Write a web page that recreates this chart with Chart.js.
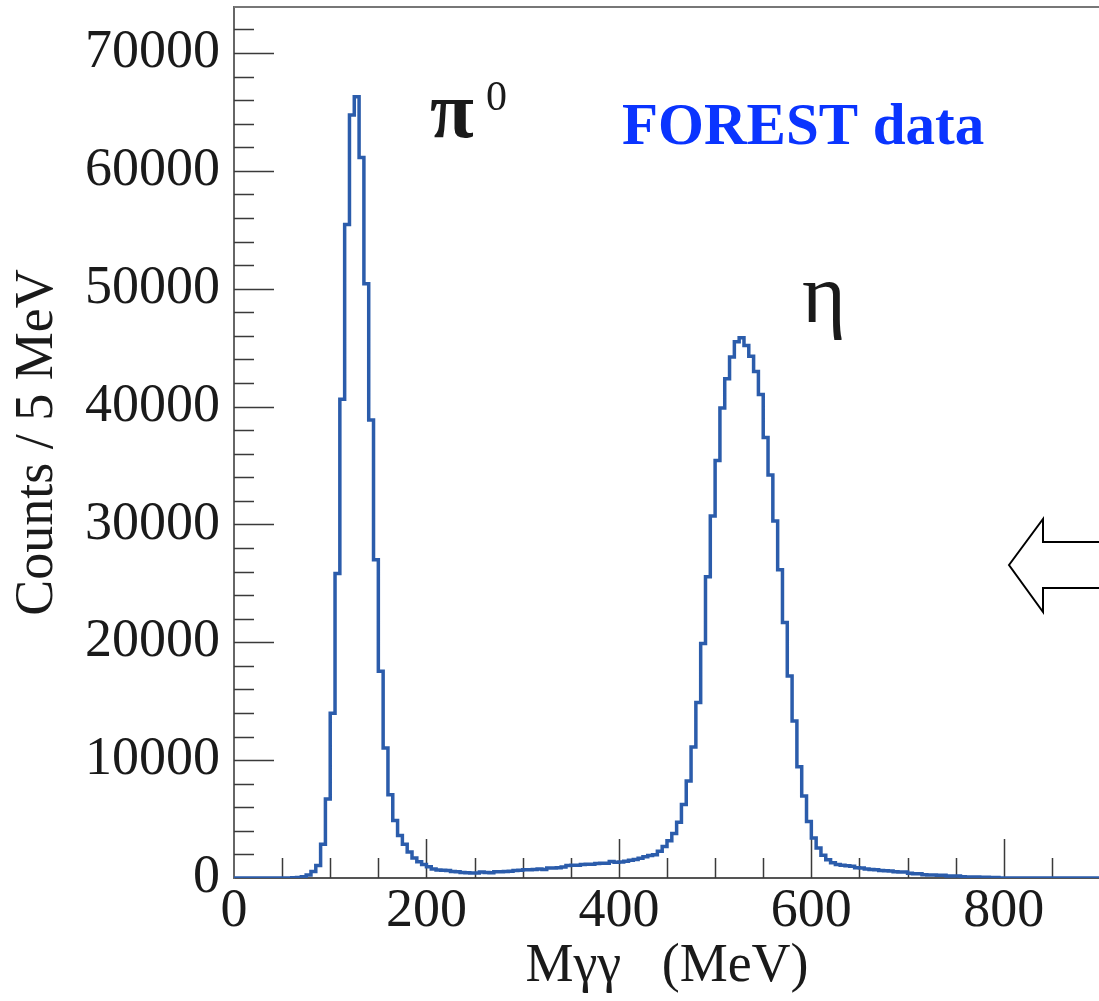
<!DOCTYPE html>
<html>
<head>
<meta charset="utf-8">
<title>M_gg spectrum - FOREST data</title>
<script src="https://cdn.jsdelivr.net/npm/chart.js@4.4.1/dist/chart.umd.min.js"></script>
<style>
    html, body { margin: 0; padding: 0; background: #fff; overflow: hidden; }
    #wrap { position: relative; width: 1110px; height: 1001px; }
</style>
</head>
<body>
<div id="wrap"><canvas id="mggChart" width="1110" height="1001"></canvas></div>
<script>
/**
 * Two-photon invariant mass histogram (5 MeV bins, 0 - 900 MeV)
 */

const BIN_WIDTH = 5;      // MeV per bin
const X_MIN = 0;
const X_MAX = 900;
const Y_MAX = 73900;

// --- bin contents, grouped by region ---
// 0 .. 90 MeV
const countsLow = [0, 0, 0, 0, 0, 0, 0, 0, 0, 0, 0, 0, 0, 20, 50, 100, 250, 550, 1050];
// 95 .. 200 MeV (pi0 peak)
const countsPi0 = [2870, 6700, 13980, 25830, 40630, 55440, 64730, 66280, 61130, 50420, 38860,
                   27010, 17540, 11030, 7060, 4880, 3600, 2870, 2200, 1700, 1380, 1140];
// 205 .. 465 MeV (between the peaks)
const countsMid = [950, 770, 680, 650, 630, 560, 540, 470, 450, 430,
                   425, 500, 460, 450, 530, 540, 560, 570, 640, 660,
                   700, 710, 720, 770, 720, 840, 850, 860, 930, 1060,
                   1075, 1080, 1150, 1160, 1170, 1230, 1245, 1260, 1390, 1330,
                   1350, 1420, 1500, 1560, 1670, 1800, 1900, 1980, 2270, 2670,
                   3150, 3780, 4720];
// 470 .. 630 MeV (eta peak)
const countsEta = [6240, 8220, 11120, 14890, 19890, 25550, 30710, 35430, 39880, 42350,
                   44200, 45500, 45830, 45180, 44270, 42970, 41020, 37380, 34190, 30290,
                   26160, 21680, 17130, 13330, 9430, 6950, 4800, 3400, 2550, 1920,
                   1540, 1300, 1140];
// 635 .. 895 MeV (tail)
const countsTail = [1080, 1040, 1000, 880, 850, 760, 720, 700, 640, 620,
                    600, 530, 510, 500, 400, 370, 350, 280, 260, 250,
                    240, 230, 180, 170, 160, 100, 90, 80, 80, 70,
                    60, 50, 40,
                    0, 0, 0, 0, 0, 0, 0, 0, 0, 0, 0, 0, 0, 0, 0, 0, 0, 0, 0, 0];

// axis tick values
const xTickLabels = [0, 200, 400, 600, 800];
const yTickLabels = [0, 10000, 20000, 30000, 40000, 50000, 60000, 70000];
const X_MINOR_STEP = 50;
const Y_MINOR_STEP = 2000;

const binCounts = [].concat(countsLow, countsPi0, countsMid, countsEta, countsTail);

// step line: one point per low bin edge, plus the closing edge
const histPoints = binCounts.map((c, i) => ({ x: X_MIN + i * BIN_WIDTH, y: c }));
histPoints.push({ x: X_MAX, y: binCounts[binCounts.length - 1] });

const TEXT_COLOR = '#1a1a1a';
const SERIF = '"Liberation Serif", "Times New Roman", serif';

/**
 * ROOT-like frame: inward ticks, top border, labels and the arrow
 */
const frameDecor = {
    id: 'frameDecor',
    beforeDatasetsDraw(chart) {
        const { ctx, chartArea: a, scales: { x, y } } = chart;
        ctx.save();
        ctx.strokeStyle = '#3a3a3a';
        ctx.lineWidth = 1.5;
        ctx.beginPath();
        for (let v = Y_MINOR_STEP; v < Y_MAX; v += Y_MINOR_STEP) {
            const py = Math.round(y.getPixelForValue(v)) + 0.5;
            const len = yTickLabels.includes(v) ? 40 : 20;
            ctx.moveTo(a.left, py);
            ctx.lineTo(a.left + len, py);
        }
        for (let v = X_MINOR_STEP; v < X_MAX; v += X_MINOR_STEP) {
            const px = Math.round(x.getPixelForValue(v)) + 0.5;
            const len = xTickLabels.includes(v) ? 39 : 20;
            ctx.moveTo(px, a.bottom);
            ctx.lineTo(px, a.bottom - len);
        }
        ctx.stroke();

        // top border of the frame
        ctx.strokeStyle = '#777';
        ctx.lineWidth = 2;
        ctx.beginPath();
        ctx.moveTo(a.left, a.top);
        ctx.lineTo(a.right, a.top);
        ctx.stroke();
        ctx.restore();
    },
    afterDraw(chart) {
        const { ctx } = chart;
        ctx.save();
        ctx.textBaseline = 'alphabetic';
        ctx.textAlign = 'left';

        // particle labels
        ctx.fillStyle = TEXT_COLOR;
        ctx.font = 'bold 80px ' + SERIF;
        ctx.fillText('π', 430, 137);
        ctx.font = '42px ' + SERIF;
        ctx.fillText('0', 486, 110);
        ctx.font = '84px ' + SERIF;
        ctx.fillText('η', 802, 322);

        // data set tag
        ctx.fillStyle = '#0a34ff';
        ctx.font = 'bold 59px ' + SERIF;
        ctx.fillText('FOREST data', 622, 144);

        // outlined arrow at the right edge
        ctx.beginPath();
        ctx.moveTo(1009, 565);
        ctx.lineTo(1043, 519);
        ctx.lineTo(1043, 542);
        ctx.lineTo(1106, 542);
        ctx.lineTo(1106, 588);
        ctx.lineTo(1043, 588);
        ctx.lineTo(1043, 612);
        ctx.closePath();
        ctx.fillStyle = '#fff';
        ctx.fill();
        ctx.strokeStyle = '#000';
        ctx.lineWidth = 2;
        ctx.stroke();
        ctx.restore();
    }
};

const labelFont = { family: SERIF, size: 54 };

new Chart(document.getElementById('mggChart'), {
    type: 'line',
    data: {
        datasets: [{
            label: 'M_gg',
            data: histPoints,
            stepped: 'after',
            borderColor: '#2b5cab',
            borderWidth: 3.5,
            pointRadius: 0,
            fill: false,
            tension: 0
        }]
    },
    options: {
        responsive: false,
        devicePixelRatio: 1,
        animation: false,
        layout: { padding: { top: 7, right: 10, left: 0, bottom: 0 } },
        plugins: {
            legend: { display: false },
            tooltip: { enabled: false }
        },
        scales: {
            x: {
                type: 'linear',
                min: X_MIN,
                max: X_MAX,
                afterFit: s => {
                    s.height = 123;
                    s.paddingLeft = 0;
                    s.paddingRight = 0;
                },
                afterBuildTicks: s => { s.ticks = xTickLabels.map(v => ({ value: v })); },
                ticks: {
                    font: labelFont,
                    color: TEXT_COLOR,
                    padding: 1,
                    maxRotation: 0,
                    autoSkip: false,
                    callback: v => String(v)
                },
                grid: { display: false, drawTicks: false },
                border: { display: true, color: '#555', width: 2 },
                title: {
                    display: true,
                    text: 'Mγγ   (MeV)',
                    font: labelFont,
                    color: TEXT_COLOR,
                    padding: { top: 0, bottom: 2 }
                }
            },
            y: {
                type: 'linear',
                min: 0,
                max: Y_MAX,
                afterFit: s => {
                    s.width = 234;
                    s.paddingTop = 0;
                    s.paddingBottom = 0;
                },
                afterBuildTicks: s => { s.ticks = yTickLabels.map(v => ({ value: v })); },
                ticks: {
                    font: labelFont,
                    color: TEXT_COLOR,
                    padding: 14,
                    callback: v => String(v)
                },
                grid: { display: false, drawTicks: false },
                border: { display: true, color: '#666', width: 2 },
                title: {
                    display: true,
                    text: 'Counts / 5 MeV',
                    font: labelFont,
                    color: TEXT_COLOR,
                    padding: { top: 5, bottom: 0 }
                }
            }
        }
    },
    plugins: [frameDecor]
});
</script>
</body>
</html>
